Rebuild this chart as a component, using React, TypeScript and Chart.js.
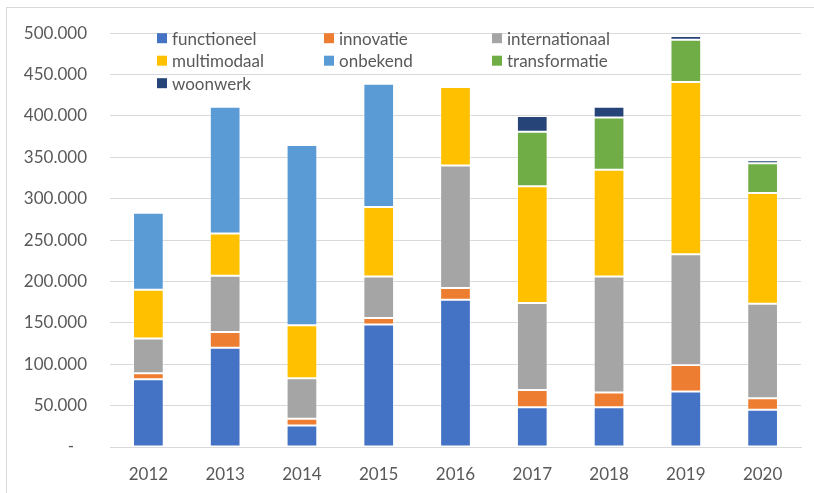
import React, { useEffect, useRef } from "react";
import { Chart, registerables } from "chart.js";

Chart.register(...registerables);

const years = ["2012", "2013", "2014", "2015", "2016", "2017", "2018", "2019", "2020"];
const functioneel = [82000, 120000, 26000, 148000, 178000, 48000, 48000, 67000, 45000];
const innovatie = [7000, 19000, 8000, 8000, 14000, 21000, 18000, 32000, 14000];
const internationaal = [42000, 68000, 49000, 50000, 148000, 105000, 140000, 134000, 114000];
const multimodaal = [59000, 51000, 64000, 84000, 95000, 141000, 129000, 208000, 134000];
const onbekend = [93000, 153000, 218000, 149000, null, null, null, null, null];
const transformatie = [null, null, null, null, null, 66000, 63000, 51000, 36000];
const woonwerk = [null, null, null, null, null, 19000, 13000, 4500, 3600];

const seriesNames = ["functioneel", "innovatie", "internationaal", "multimodaal", "onbekend", "transformatie", "woonwerk"];
const seriesData = [functioneel, innovatie, internationaal, multimodaal, onbekend, transformatie, woonwerk];
const seriesColors = ["#4472C4", "#ED7D31", "#A5A5A5", "#FFC000", "#5B9BD5", "#70AD47", "#264478"];

const FONT = "Lato, 'Noto Sans', sans-serif";
const TEXT = "#595959";

const fmt = (v: number) =>
  v === 0 ? "-   " : String(v).replace(/\B(?=(\d{3})+(?!\d))/g, ".");

const framePlugin = {
  id: "frame",
  beforeDraw(chart: any) {
    const ctx = chart.ctx;
    ctx.save();
    ctx.fillStyle = "#ffffff";
    ctx.fillRect(0, 0, chart.width, chart.height);
    ctx.strokeStyle = "#D9D9D9";
    ctx.lineWidth = 1;
    ctx.strokeRect(6.5, 7.5, chart.width + 20, chart.height + 20);
    ctx.restore();
  },
};

const legendPlugin = {
  id: "insideLegend",
  afterDraw(chart: any) {
    const ctx = chart.ctx;
    const area = chart.chartArea;
    const colX = [area.left + 47, area.left + 214, area.left + 382];
    const rowY = [area.top + 5, area.top + 27.5, area.top + 50];
    ctx.save();
    ctx.font = `17px ${FONT}`;
    ctx.textBaseline = "middle";
    ctx.textAlign = "left";
    seriesNames.forEach((name, i) => {
      const c = i % 3;
      const r = Math.floor(i / 3);
      const x = colX[c];
      const y = rowY[r];
      ctx.fillStyle = seriesColors[i];
      ctx.fillRect(x, y - 5, 10, 10);
      ctx.fillStyle = TEXT;
      ctx.fillText(name, x + 15, y + 1);
    });
    ctx.restore();
  },
};

export default function App() {
  const ref = useRef<HTMLCanvasElement | null>(null);

  useEffect(() => {
    document.body.style.margin = "0";
    const canvas = ref.current;
    if (!canvas) return;
    const chart = new Chart(canvas, {
      type: "bar",
      data: {
        labels: years,
        datasets: seriesNames.map((name, i) => ({
          label: name,
          data: seriesData[i] as any,
          backgroundColor: seriesColors[i],
          borderColor: "rgba(255,255,255,0.45)",
          borderWidth: 1,
          borderSkipped: false,
          categoryPercentage: 1,
          barPercentage: 0.4,
        })),
      },
      options: {
        animation: false,
        responsive: false,
        maintainAspectRatio: false,
        devicePixelRatio: 1,
        layout: { padding: { left: 6, right: 13, top: 31, bottom: 6 } },
        plugins: {
          legend: { display: false },
          tooltip: { enabled: false },
        },
        scales: {
          x: {
            stacked: true,
            grid: { display: false },
            border: { display: true, color: "#D9D9D9", width: 1 },
            ticks: { color: TEXT, font: { family: FONT, size: 17 }, padding: 9, maxRotation: 0 },
            afterFit: (s: any) => {
              s.height = 40;
            },
          },
          y: {
            stacked: true,
            min: 0,
            max: 500000,
            grid: { color: "#D9D9D9", lineWidth: 1, drawTicks: false },
            border: { display: false },
            ticks: {
              stepSize: 50000,
              color: TEXT,
              font: { family: FONT, size: 17 },
              padding: 23,
              callback: (v: any) => fmt(Number(v)),
            },
            afterFit: (s: any) => {
              s.width = 104;
            },
          },
        },
      },
      plugins: [framePlugin, legendPlugin],
    });
    return () => chart.destroy();
  }, []);

  return (
    <div style={{ width: 814, height: 493 }}>
      <canvas ref={ref} width={814} height={493} style={{ display: "block" }} />
    </div>
  );
}
